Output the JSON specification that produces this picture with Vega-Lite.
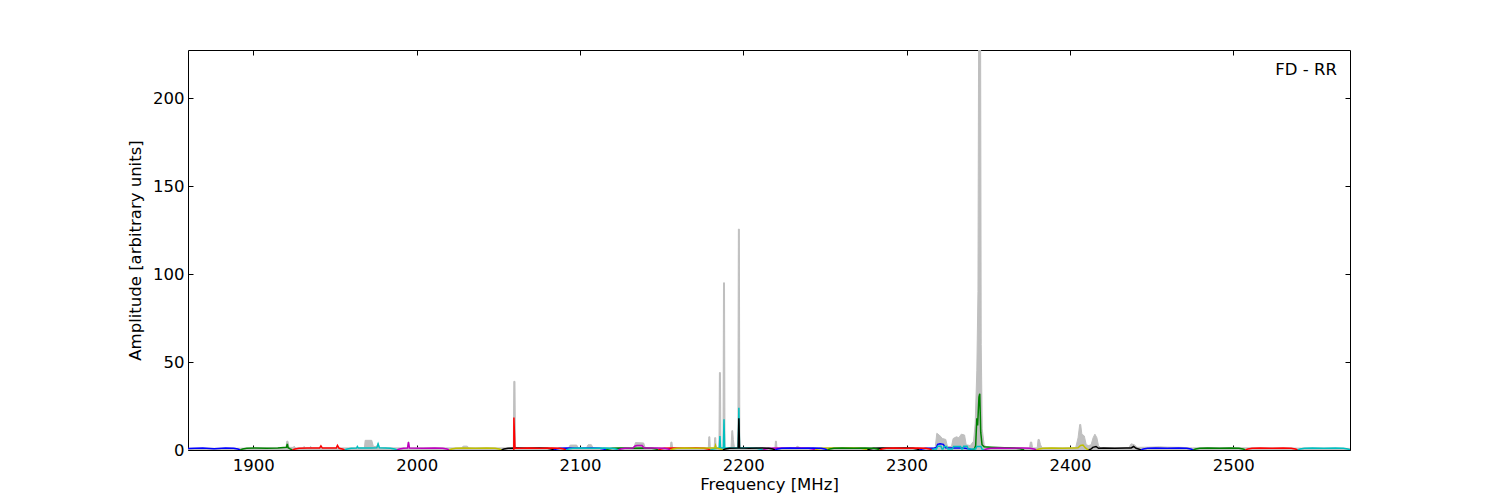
{
"$schema": "https://vega.github.io/schema/vega-lite/v6.json",
"width": 1162, "height": 400,
"autosize": "none",
"padding": {"left": 188, "top": 50, "right": 150, "bottom": 50},
"background": "white",
"config": {
 "view": {"stroke": "black", "strokeWidth": 1},
 "font": "DejaVu Sans",
 "axis": {"grid": false, "domain": false, "tickColor": "black", "tickSize": -5, "labelFontSize": 16.5, "labelColor": "black", "titleFontSize": 16.5, "titleFontWeight": "normal", "titleColor": "black", "labelFont": "DejaVu Sans", "titleFont": "DejaVu Sans"}
},
"resolve": {"axis": {"x": "independent", "y": "independent"}},
"datasets": {
"spectrum": [
{"f":1860,"a":0.9},{"f":1890,"a":1.0},{"f":1918,"a":1.2},{"f":1920,"a":1.3},{"f":1920.5,"a":5},{"f":1921.2,"a":5},{"f":1921.8,"a":1.5},{"f":1924.5,"a":1.5},{"f":1925,"a":2.2},{"f":1926,"a":1.2},{"f":1930.5,"a":1.2},{"f":1931,"a":2},{"f":1932,"a":1.2},{"f":1934.5,"a":1.2},{"f":1935,"a":2},{"f":1936,"a":1.2},{"f":1940.5,"a":1.2},{"f":1941.3,"a":2.4},{"f":1942,"a":1.2},{"f":1951,"a":1.2},{"f":1951.5,"a":2.5},{"f":1952.2,"a":1.2},
{"f":1968,"a":1.2},{"f":1968.5,"a":5.5},{"f":1972.5,"a":5.5},{"f":1973.5,"a":2},{"f":1975.5,"a":2},{"f":1976.4,"a":3.8},{"f":1977.3,"a":1.2},{"f":1994.3,"a":1.2},{"f":1995,"a":4.8},{"f":1995.7,"a":1.2},{"f":2027.5,"a":1.2},{"f":2028.5,"a":2.2},{"f":2031,"a":2.2},{"f":2032,"a":1.2},
{"f":2059.2,"a":1.2},{"f":2059.5,"a":39},{"f":2060.2,"a":39},{"f":2060.5,"a":1.2},{"f":2093,"a":1.2},{"f":2094,"a":2.8},{"f":2098,"a":2.8},{"f":2099,"a":1.2},{"f":2104,"a":1.2},{"f":2105,"a":3},{"f":2107,"a":3},{"f":2108,"a":1.2},{"f":2133,"a":1.2},{"f":2134,"a":4.2},{"f":2139,"a":4},{"f":2140,"a":1.2},{"f":2155.3,"a":1.2},{"f":2155.7,"a":4.5},{"f":2156.3,"a":4.5},{"f":2156.7,"a":1.2},
{"f":2178.6,"a":1.2},{"f":2178.9,"a":7.5},{"f":2179.5,"a":7.5},{"f":2179.8,"a":1.2},{"f":2182.2,"a":1.2},{"f":2182.5,"a":7},{"f":2183.1,"a":7},{"f":2183.4,"a":1.2},{"f":2185.1,"a":1.2},{"f":2185.4,"a":44},{"f":2186,"a":44},{"f":2186.3,"a":1.2},{"f":2187.6,"a":1.2},{"f":2187.9,"a":95},{"f":2188.5,"a":95},{"f":2188.8,"a":1.2},{"f":2192.5,"a":1.2},{"f":2193,"a":11},{"f":2193.5,"a":11},{"f":2193.9,"a":6},{"f":2194.6,"a":1.2},{"f":2196.7,"a":1.2},{"f":2197,"a":125.5},{"f":2197.6,"a":125.5},{"f":2197.9,"a":1.2},{"f":2219.4,"a":1.2},{"f":2219.7,"a":5},{"f":2220.3,"a":5},{"f":2220.6,"a":1.2},{"f":2232,"a":1.2},{"f":2233,"a":2.2},{"f":2235,"a":1.2},
{"f":2317.5,"a":1.2},{"f":2318.5,"a":9.5},{"f":2320,"a":8.5},{"f":2322,"a":6.5},{"f":2324,"a":6},{"f":2325,"a":2},{"f":2327.5,"a":2},{"f":2328.5,"a":6.5},{"f":2330.5,"a":7.5},{"f":2332,"a":7},{"f":2333.5,"a":9},{"f":2335.5,"a":8.5},{"f":2336.5,"a":3},{"f":2339,"a":2.5},{"f":2341,"a":5},{"f":2342,"a":15},{"f":2343,"a":45},{"f":2343.7,"a":90},{"f":2344.1,"a":240},{"f":2345.3,"a":240},{"f":2345.7,"a":60},{"f":2346.3,"a":12},{"f":2347.5,"a":3},{"f":2349,"a":1.5},
{"f":2375.3,"a":1.2},{"f":2375.8,"a":4.5},{"f":2376.6,"a":4.5},{"f":2377.1,"a":1.2},{"f":2380,"a":1.2},{"f":2380.5,"a":6},{"f":2381.2,"a":6},{"f":2382,"a":3},{"f":2383,"a":1.2},{"f":2403.5,"a":1.2},{"f":2405,"a":7},{"f":2406,"a":14.5},{"f":2406.6,"a":14.5},{"f":2407.3,"a":9},{"f":2408.8,"a":8},{"f":2410,"a":3},{"f":2411.5,"a":2.5},{"f":2413,"a":3},{"f":2414.2,"a":7},{"f":2415.3,"a":9},{"f":2416.5,"a":7},{"f":2417.5,"a":2.5},{"f":2419,"a":1.2},{"f":2436,"a":1.2},{"f":2437.5,"a":3.5},{"f":2439.5,"a":3},{"f":2441,"a":1.5},{"f":2448,"a":1.6},{"f":2455,"a":1.8},{"f":2460,"a":1.6},{"f":2468,"a":1.5},{"f":2475,"a":1.2},{"f":2485,"a":1.3},{"f":2495,"a":1.3},{"f":2571.5,"a":0.9}
],
"bands": [
{"b":"A0","f":1860,"a":0.8},{"b":"A0","f":1864,"a":1},{"b":"A0","f":1869,"a":1.2},{"b":"A0","f":1876,"a":0.7},{"b":"A0","f":1883,"a":1.2},{"b":"A0","f":1888,"a":1},{"b":"A0","f":1890.5,"a":0.6},{"b":"A0","f":1892,"a":0.05},
{"b":"A1","f":1892,"a":0.05},{"b":"A1","f":1893.5,"a":0.6},{"b":"A1","f":1896,"a":1},{"b":"A1","f":1901,"a":1.2},{"b":"A1","f":1908,"a":1.05},{"b":"A1","f":1915,"a":1.2},{"b":"A1","f":1920.3,"a":1.6},{"b":"A1","f":1920.8,"a":3.5},{"b":"A1","f":1921.3,"a":1.3},{"b":"A1","f":1922.5,"a":0.6},{"b":"A1","f":1924,"a":0.05},
{"b":"A2","f":1924,"a":0.05},{"b":"A2","f":1925.5,"a":0.6},{"b":"A2","f":1928,"a":1},{"b":"A2","f":1933,"a":1.2},{"b":"A2","f":1940.6,"a":1.1},{"b":"A2","f":1941.4,"a":2.3},{"b":"A2","f":1942.3,"a":1.1},{"b":"A2","f":1947,"a":1.2},{"b":"A2","f":1950.8,"a":1.1},{"b":"A2","f":1951.5,"a":2.6},{"b":"A2","f":1952.5,"a":1},{"b":"A2","f":1954.5,"a":0.6},{"b":"A2","f":1956,"a":0.05},
{"b":"A3","f":1956,"a":0.05},{"b":"A3","f":1957.5,"a":0.6},{"b":"A3","f":1960,"a":1},{"b":"A3","f":1963.2,"a":1.1},{"b":"A3","f":1963.7,"a":2},{"b":"A3","f":1964.3,"a":1.1},{"b":"A3","f":1968,"a":1.1},{"b":"A3","f":1972,"a":1.1},{"b":"A3","f":1975.6,"a":1.2},{"b":"A3","f":1976.4,"a":3.5},{"b":"A3","f":1977.2,"a":1.2},{"b":"A3","f":1981,"a":1.1},{"b":"A3","f":1984,"a":1},{"b":"A3","f":1986.5,"a":0.6},{"b":"A3","f":1988,"a":0.05},
{"b":"A4","f":1988,"a":0.05},{"b":"A4","f":1989.5,"a":0.6},{"b":"A4","f":1992,"a":1},{"b":"A4","f":1994.4,"a":1.1},{"b":"A4","f":1995,"a":4.5},{"b":"A4","f":1995.6,"a":1.1},{"b":"A4","f":2004,"a":1.05},{"b":"A4","f":2011,"a":1.2},{"b":"A4","f":2016,"a":1},{"b":"A4","f":2018.5,"a":0.6},{"b":"A4","f":2020,"a":0.05},
{"b":"A5","f":2020,"a":0.05},{"b":"A5","f":2021.5,"a":0.6},{"b":"A5","f":2024,"a":1},{"b":"A5","f":2029,"a":1.2},{"b":"A5","f":2036,"a":1.05},{"b":"A5","f":2043,"a":1.2},{"b":"A5","f":2048,"a":1},{"b":"A5","f":2050.5,"a":0.6},{"b":"A5","f":2052,"a":0.05},
{"b":"A6","f":2052,"a":0.05},{"b":"A6","f":2053.5,"a":0.6},{"b":"A6","f":2056,"a":1},{"b":"A6","f":2061,"a":1.2},{"b":"A6","f":2068,"a":1.05},{"b":"A6","f":2075,"a":1.2},{"b":"A6","f":2080,"a":1},{"b":"A6","f":2082.5,"a":0.6},{"b":"A6","f":2084,"a":0.05},
{"b":"A7","f":2084,"a":0.05},{"b":"A7","f":2085.5,"a":0.6},{"b":"A7","f":2088,"a":1},{"b":"A7","f":2093,"a":1.2},{"b":"A7","f":2100,"a":1.05},{"b":"A7","f":2107,"a":1.2},{"b":"A7","f":2112,"a":1},{"b":"A7","f":2114.5,"a":0.6},{"b":"A7","f":2116,"a":0.05},
{"b":"A8","f":2116,"a":0.05},{"b":"A8","f":2117.5,"a":0.6},{"b":"A8","f":2120,"a":1},{"b":"A8","f":2125,"a":1.2},{"b":"A8","f":2132,"a":1.05},{"b":"A8","f":2139,"a":1.2},{"b":"A8","f":2144,"a":1},{"b":"A8","f":2146.5,"a":0.6},{"b":"A8","f":2148,"a":0.05},
{"b":"A9","f":2148,"a":0.05},{"b":"A9","f":2149.5,"a":0.6},{"b":"A9","f":2152,"a":1},{"b":"A9","f":2157,"a":1.2},{"b":"A9","f":2164,"a":1.05},{"b":"A9","f":2171,"a":1.2},{"b":"A9","f":2176,"a":1},{"b":"A9","f":2178.5,"a":0.6},{"b":"A9","f":2180,"a":0.05},
{"b":"A10","f":2180,"a":0.05},{"b":"A10","f":2181.5,"a":0.6},{"b":"A10","f":2184,"a":1},{"b":"A10","f":2185.3,"a":1.1},{"b":"A10","f":2185.7,"a":8},{"b":"A10","f":2186.1,"a":1.1},{"b":"A10","f":2187.8,"a":1.2},{"b":"A10","f":2188.2,"a":17.5},{"b":"A10","f":2188.6,"a":1.2},{"b":"A10","f":2193,"a":1.1},{"b":"A10","f":2196.9,"a":1.1},{"b":"A10","f":2197.3,"a":24},{"b":"A10","f":2197.7,"a":1.1},{"b":"A10","f":2203,"a":1.2},{"b":"A10","f":2208,"a":1},{"b":"A10","f":2210.5,"a":0.6},{"b":"A10","f":2212,"a":0.05},
{"b":"A11","f":2212,"a":0.05},{"b":"A11","f":2213.5,"a":0.6},{"b":"A11","f":2216,"a":1},{"b":"A11","f":2221,"a":1.2},{"b":"A11","f":2228,"a":1.05},{"b":"A11","f":2235,"a":1.2},{"b":"A11","f":2240,"a":1},{"b":"A11","f":2242.5,"a":0.6},{"b":"A11","f":2244,"a":0.05},
{"b":"A12","f":2244,"a":0.05},{"b":"A12","f":2245.5,"a":0.6},{"b":"A12","f":2248,"a":1},{"b":"A12","f":2253,"a":1.2},{"b":"A12","f":2260,"a":1.05},{"b":"A12","f":2267,"a":1.2},{"b":"A12","f":2272,"a":1},{"b":"A12","f":2274.5,"a":0.6},{"b":"A12","f":2276,"a":0.05},
{"b":"A13","f":2276,"a":0.05},{"b":"A13","f":2277.5,"a":0.6},{"b":"A13","f":2280,"a":1},{"b":"A13","f":2285,"a":1.2},{"b":"A13","f":2292,"a":1.05},{"b":"A13","f":2299,"a":1.2},{"b":"A13","f":2304,"a":1},{"b":"A13","f":2306.5,"a":0.6},{"b":"A13","f":2308,"a":0.05},
{"b":"A14","f":2308,"a":0.05},{"b":"A14","f":2309.5,"a":0.6},{"b":"A14","f":2312,"a":1},{"b":"A14","f":2317,"a":1.2},{"b":"A14","f":2318.3,"a":1.5},{"b":"A14","f":2319,"a":3.2},{"b":"A14","f":2320.5,"a":3.5},{"b":"A14","f":2322.5,"a":3.2},{"b":"A14","f":2323.8,"a":1.3},{"b":"A14","f":2328,"a":1.1},{"b":"A14","f":2334,"a":1.1},{"b":"A14","f":2336,"a":1},{"b":"A14","f":2338.5,"a":0.6},{"b":"A14","f":2340,"a":0.05},
{"b":"A15","f":2340,"a":0.05},{"b":"A15","f":2341.5,"a":0.6},{"b":"A15","f":2342.3,"a":2.5},{"b":"A15","f":2343,"a":18},{"b":"A15","f":2343.5,"a":14},{"b":"A15","f":2344.3,"a":30},{"b":"A15","f":2344.8,"a":32},{"b":"A15","f":2345.4,"a":10},{"b":"A15","f":2346.2,"a":3},{"b":"A15","f":2347.5,"a":1.8},{"b":"A15","f":2352,"a":1.6},{"b":"A15","f":2360,"a":1.3},{"b":"A15","f":2366,"a":1.1},{"b":"A15","f":2369.5,"a":0.7},{"b":"A15","f":2372,"a":0.05},
{"b":"B0","f":2059.5,"a":0.05},{"b":"B0","f":2059.55,"a":18.5},{"b":"B0","f":2060.2,"a":1},{"b":"B0","f":2063.5,"a":1},{"b":"B0","f":2068.5,"a":1.2},{"b":"B0","f":2075.5,"a":1.05},{"b":"B0","f":2082.5,"a":1.2},{"b":"B0","f":2087.5,"a":1},{"b":"B0","f":2090,"a":0.6},{"b":"B0","f":2091.5,"a":0.05},
{"b":"B1","f":2091.5,"a":0.05},{"b":"B1","f":2093,"a":0.6},{"b":"B1","f":2095.5,"a":1},{"b":"B1","f":2100.5,"a":1.2},{"b":"B1","f":2107.5,"a":1.05},{"b":"B1","f":2114.5,"a":1.2},{"b":"B1","f":2119.5,"a":1},{"b":"B1","f":2122,"a":0.6},{"b":"B1","f":2123.5,"a":0.05},
{"b":"B2","f":2123.5,"a":0.05},{"b":"B2","f":2125,"a":0.6},{"b":"B2","f":2127.5,"a":1},{"b":"B2","f":2132.5,"a":1.2},{"b":"B2","f":2133.8,"a":2.3},{"b":"B2","f":2135,"a":2.6},{"b":"B2","f":2138,"a":2.6},{"b":"B2","f":2139.3,"a":1.2},{"b":"B2","f":2146.5,"a":1.2},{"b":"B2","f":2151.5,"a":1},{"b":"B2","f":2154,"a":0.6},{"b":"B2","f":2155.5,"a":0.05},
{"b":"B3","f":2155.5,"a":0.05},{"b":"B3","f":2157,"a":0.6},{"b":"B3","f":2159.5,"a":1},{"b":"B3","f":2164.5,"a":1.2},{"b":"B3","f":2171.5,"a":1.05},{"b":"B3","f":2178.5,"a":1.2},{"b":"B3","f":2182.6,"a":1.2},{"b":"B3","f":2183,"a":2.5},{"b":"B3","f":2183.4,"a":1.2},{"b":"B3","f":2186,"a":0.6},{"b":"B3","f":2187.5,"a":0.05},
{"b":"B4","f":2187.5,"a":0.05},{"b":"B4","f":2189,"a":0.6},{"b":"B4","f":2191.5,"a":1},{"b":"B4","f":2196.5,"a":1.2},{"b":"B4","f":2196.9,"a":1.2},{"b":"B4","f":2197.3,"a":18},{"b":"B4","f":2197.7,"a":1.2},{"b":"B4","f":2203.5,"a":1.05},{"b":"B4","f":2210.5,"a":1.2},{"b":"B4","f":2215.5,"a":1},{"b":"B4","f":2218,"a":0.6},{"b":"B4","f":2219.5,"a":0.05},
{"b":"B5","f":2219.5,"a":0.05},{"b":"B5","f":2221,"a":0.6},{"b":"B5","f":2223.5,"a":1},{"b":"B5","f":2228.5,"a":1.2},{"b":"B5","f":2235.5,"a":1.05},{"b":"B5","f":2242.5,"a":1.2},{"b":"B5","f":2247.5,"a":1},{"b":"B5","f":2250,"a":0.6},{"b":"B5","f":2251.5,"a":0.05},
{"b":"B6","f":2251.5,"a":0.05},{"b":"B6","f":2253,"a":0.6},{"b":"B6","f":2255.5,"a":1},{"b":"B6","f":2260.5,"a":1.2},{"b":"B6","f":2267.5,"a":1.05},{"b":"B6","f":2274.5,"a":1.2},{"b":"B6","f":2279.5,"a":1},{"b":"B6","f":2282,"a":0.6},{"b":"B6","f":2283.5,"a":0.05},
{"b":"B7","f":2283.5,"a":0.05},{"b":"B7","f":2285,"a":0.6},{"b":"B7","f":2287.5,"a":1},{"b":"B7","f":2292.5,"a":1.2},{"b":"B7","f":2299.5,"a":1.05},{"b":"B7","f":2306.5,"a":1.2},{"b":"B7","f":2311.5,"a":1},{"b":"B7","f":2314,"a":0.6},{"b":"B7","f":2315.5,"a":0.05},
{"b":"B8","f":2315.5,"a":0.05},{"b":"B8","f":2317,"a":0.6},{"b":"B8","f":2318.3,"a":0.6},{"b":"B8","f":2319,"a":2.2},{"b":"B8","f":2321,"a":2.2},{"b":"B8","f":2321.7,"a":0.5},{"b":"B8","f":2322.3,"a":0.5},{"b":"B8","f":2323,"a":2},{"b":"B8","f":2324.5,"a":2},{"b":"B8","f":2325.3,"a":0.5},{"b":"B8","f":2328,"a":0.5},{"b":"B8","f":2328.8,"a":2},{"b":"B8","f":2333,"a":2},{"b":"B8","f":2333.7,"a":0.5},{"b":"B8","f":2334.3,"a":0.5},{"b":"B8","f":2335,"a":2.2},{"b":"B8","f":2337,"a":2.2},{"b":"B8","f":2337.8,"a":0.5},{"b":"B8","f":2342.3,"a":0.5},{"b":"B8","f":2343,"a":2},{"b":"B8","f":2345.5,"a":2},{"b":"B8","f":2346.2,"a":0.5},{"b":"B8","f":2347.5,"a":0.05},
{"b":"B9","f":2347.5,"a":0.05},{"b":"B9","f":2349,"a":0.6},{"b":"B9","f":2351.5,"a":1},{"b":"B9","f":2356.5,"a":1.2},{"b":"B9","f":2363.5,"a":1.05},{"b":"B9","f":2370.5,"a":1.2},{"b":"B9","f":2375.5,"a":1},{"b":"B9","f":2378,"a":0.6},{"b":"B9","f":2379.5,"a":0.05},
{"b":"B10","f":2379.5,"a":0.05},{"b":"B10","f":2381,"a":0.6},{"b":"B10","f":2383.5,"a":1},{"b":"B10","f":2388.5,"a":1.2},{"b":"B10","f":2395.5,"a":1.05},{"b":"B10","f":2402.5,"a":1.2},{"b":"B10","f":2405,"a":1.3},{"b":"B10","f":2406.5,"a":2.6},{"b":"B10","f":2408,"a":2.8},{"b":"B10","f":2409.5,"a":1.2},{"b":"B10","f":2410.3,"a":0.6},{"b":"B10","f":2411.5,"a":0.05},
{"b":"B11","f":2411.5,"a":0.05},{"b":"B11","f":2413,"a":0.6},{"b":"B11","f":2414,"a":1.5},{"b":"B11","f":2416,"a":2},{"b":"B11","f":2417.5,"a":1},{"b":"B11","f":2420.5,"a":1.2},{"b":"B11","f":2427.5,"a":1.05},{"b":"B11","f":2434.5,"a":1.2},{"b":"B11","f":2437.5,"a":1.2},{"b":"B11","f":2439,"a":2},{"b":"B11","f":2440.5,"a":1},{"b":"B11","f":2442,"a":0.6},{"b":"B11","f":2443.5,"a":0.05},
{"b":"B12","f":2443.5,"a":0.05},{"b":"B12","f":2445,"a":0.6},{"b":"B12","f":2447.5,"a":1},{"b":"B12","f":2452.5,"a":1.2},{"b":"B12","f":2459.5,"a":1.05},{"b":"B12","f":2466.5,"a":1.2},{"b":"B12","f":2471.5,"a":1},{"b":"B12","f":2474,"a":0.6},{"b":"B12","f":2475.5,"a":0.05},
{"b":"B13","f":2475.5,"a":0.05},{"b":"B13","f":2477,"a":0.6},{"b":"B13","f":2479.5,"a":1},{"b":"B13","f":2484.5,"a":1.2},{"b":"B13","f":2491.5,"a":1.05},{"b":"B13","f":2498.5,"a":1.2},{"b":"B13","f":2503.5,"a":1},{"b":"B13","f":2506,"a":0.6},{"b":"B13","f":2507.5,"a":0.05},
{"b":"B14","f":2507.5,"a":0.05},{"b":"B14","f":2509,"a":0.6},{"b":"B14","f":2511.5,"a":1},{"b":"B14","f":2516.5,"a":1.2},{"b":"B14","f":2523.5,"a":1.05},{"b":"B14","f":2530.5,"a":1.2},{"b":"B14","f":2535.5,"a":1},{"b":"B14","f":2538,"a":0.6},{"b":"B14","f":2539.5,"a":0.05},
{"b":"B15","f":2539.5,"a":0.05},{"b":"B15","f":2541,"a":0.6},{"b":"B15","f":2543.5,"a":1},{"b":"B15","f":2548.5,"a":1.2},{"b":"B15","f":2555.5,"a":1.05},{"b":"B15","f":2562.5,"a":1.2},{"b":"B15","f":2567.5,"a":1},{"b":"B15","f":2570,"a":0.6},{"b":"B15","f":2571.5,"a":0.05}
]
},
"layer": [
 {"data": {"name": "spectrum"},
  "mark": {"type": "area", "color": "#bfbfbf", "stroke": "#bfbfbf", "strokeWidth": 1, "clip": true},
  "encoding": {
   "x": {"field": "f", "type": "quantitative", "scale": {"domain": [1860, 2571.5], "nice": false, "zero": false},
         "axis": {"orient": "bottom", "title": "Frequency [MHz]", "format": "d", "values": [1900, 2000, 2100, 2200, 2300, 2400, 2500], "labelPadding": 12, "titlePadding": 3}},
   "y": {"field": "a", "type": "quantitative", "scale": {"domain": [0, 227.3], "nice": false},
         "axis": {"orient": "left", "title": "Amplitude [arbitrary units]", "values": [0, 50, 100, 150, 200], "labelPadding": 9, "titlePadding": 9}}
  }},
 {"data": {"name": "bands"},
  "mark": {"type": "line", "strokeWidth": 1.5, "clip": true},
  "encoding": {
   "x": {"field": "f", "type": "quantitative", "scale": {"domain": [1860, 2571.5], "nice": false, "zero": false}, "axis": {"orient": "top", "labels": false, "title": null, "values": [1900, 2000, 2100, 2200, 2300, 2400, 2500]}},
   "y": {"field": "a", "type": "quantitative", "scale": {"domain": [0, 227.3], "nice": false}, "axis": {"orient": "right", "labels": false, "title": null, "values": [0, 50, 100, 150, 200]}},
   "color": {"field": "b", "type": "nominal", "legend": null,
     "scale": {"domain": ["A0","A1","A2","A3","A4","A5","A6","A7","A8","A9","A10","A11","A12","A13","A14","A15","B0","B1","B2","B3","B4","B5","B6","B7","B8","B9","B10","B11","B12","B13","B14","B15"],
               "range": ["#0000ff","#008000","#ff0000","#00bfbf","#bf00bf","#bfbf00","#000000","#0000ff","#008000","#ff0000","#00bfbf","#bf00bf","#bfbf00","#000000","#0000ff","#008000","#ff0000","#00bfbf","#bf00bf","#bfbf00","#000000","#0000ff","#008000","#ff0000","#00bfbf","#bf00bf","#bfbf00","#000000","#0000ff","#008000","#ff0000","#00bfbf"]}}
  }},
 {"data": {"values": [{"label": "FD - RR"}]},
  "mark": {"type": "text", "align": "right", "baseline": "middle", "fontSize": 16.5, "font": "DejaVu Sans", "color": "black"},
  "encoding": {"x": {"datum": 2563.5, "type": "quantitative", "axis": null}, "y": {"datum": 216, "type": "quantitative", "axis": null}, "text": {"field": "label"}}}
]
}
